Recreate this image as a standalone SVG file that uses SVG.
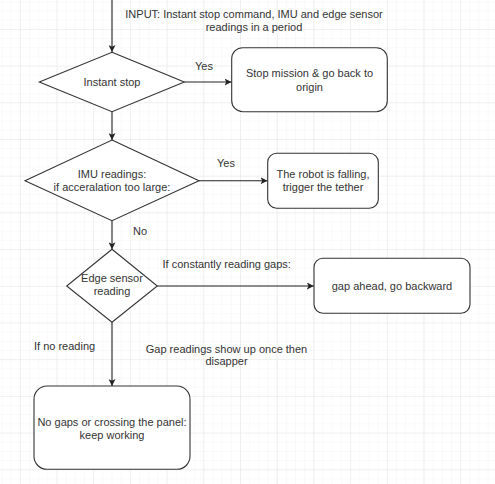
<svg xmlns="http://www.w3.org/2000/svg" width="495" height="484" viewBox="0 0 495 484">
<defs>
<pattern id="minor" x="-16.9" y="-7.8" width="9.175" height="9.175" patternUnits="userSpaceOnUse">
<path d="M0 0H9.175M0 0V9.175" fill="none" stroke="#f4f4f4" stroke-width="1"/>
</pattern>
<pattern id="major" x="-16.9" y="-7.8" width="36.7" height="36.7" patternUnits="userSpaceOnUse">
<path d="M0 0H36.7M0 0V36.7" fill="none" stroke="#e6e6e6" stroke-width="1"/>
</pattern>
<marker id="arr" viewBox="0 0 10 10" refX="10" refY="5" markerWidth="7" markerHeight="7" orient="auto" markerUnits="userSpaceOnUse">
<path d="M0 0L10 5L0 10L2.5 5Z" fill="#222"/>
</marker>
<style>
.shape{fill:#fff;stroke:#333;stroke-width:1.1}
.edge{fill:none;stroke:#222;stroke-width:1.1}
text{font-family:"Liberation Sans",Arial,sans-serif;font-size:11px;fill:#333;text-anchor:middle}
.l{text-anchor:start}
</style>
</defs>
<rect width="495" height="484" fill="#fff"/>
<rect width="495" height="484" fill="url(#minor)"/>
<rect width="495" height="484" fill="url(#major)"/>

<g id="connectors">
<path class="edge" d="M112 0V52" marker-end="url(#arr)"/>
<path class="edge" d="M184.3 82H231.5" marker-end="url(#arr)"/>
<path class="edge" d="M112 111.7V140" marker-end="url(#arr)"/>
<path class="edge" d="M199 180.7H267.5" marker-end="url(#arr)"/>
<path class="edge" d="M112 220.7V249.3" marker-end="url(#arr)"/>
<path class="edge" d="M157.3 286H313.8" marker-end="url(#arr)"/>
<path class="edge" d="M112 322.3V386" marker-end="url(#arr)"/>
</g>

<g id="labels">
<text x="254" y="18">INPUT: Instant stop command, IMU and edge sensor</text>
<text x="254" y="31">readings in a period</text>
<text x="204" y="70">Yes</text>
<text x="226" y="166.5">Yes</text>
<text x="140" y="234.5">No</text>
<text class="l" x="162.5" y="268">If constantly reading gaps:</text>
<text class="l" x="34" y="350">If no reading</text>
<text x="226.5" y="352.5">Gap readings show up once then</text>
<text x="226.5" y="365.2">disapper</text>
</g>

<g id="instant-stop">
<path class="shape" d="M112 52.3L184.3 82L112 111.7L39.3 82Z"/>
<text x="112" y="86">Instant stop</text>
</g>

<g id="stop-mission">
<rect class="shape" x="231.7" y="47.7" width="155.6" height="64" rx="11"/>
<text x="309.5" y="77.3">Stop mission &amp; go back to</text>
<text x="309.5" y="90.5">origin</text>
</g>

<g id="imu">
<path class="shape" d="M112 140L199 180.7L112 220.7L25 180.7Z"/>
<text x="112" y="178.3">IMU readings:</text>
<text x="112" y="191.3">if acceralation too large:</text>
</g>

<g id="falling">
<rect class="shape" x="267.7" y="153.3" width="110.6" height="55" rx="9"/>
<text x="323" y="178.3">The robot is falling,</text>
<text x="323" y="191.3">trigger the tether</text>
</g>

<g id="edge-sensor">
<path class="shape" d="M112 249.3L157.3 286L112 322.3L66.7 286Z"/>
<text x="112" y="282.3">Edge sensor</text>
<text x="112" y="295">reading</text>
</g>

<g id="gap-ahead">
<rect class="shape" x="314" y="258.3" width="156" height="55" rx="9"/>
<text x="392" y="290">gap ahead, go backward</text>
</g>

<g id="keep-working">
<rect class="shape" x="34" y="386" width="156" height="83.3" rx="13"/>
<text x="112" y="426.3">No gaps or crossing the panel:</text>
<text x="112" y="439">keep working</text>
</g>
</svg>
